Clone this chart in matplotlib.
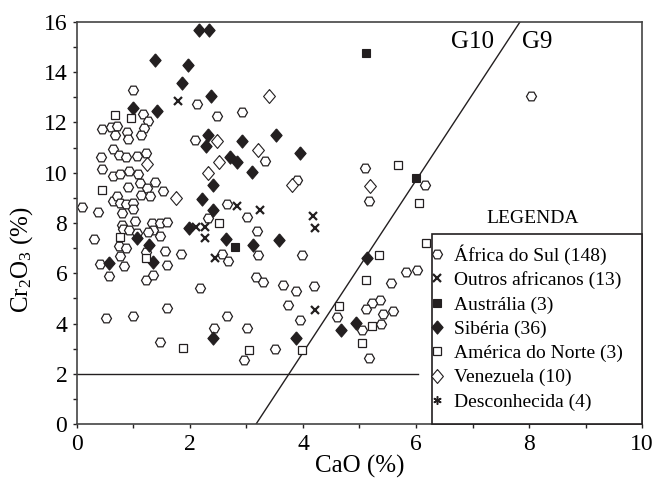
import matplotlib
matplotlib.use("Agg")
import matplotlib.pyplot as plt
from matplotlib.patches import Rectangle
from matplotlib.lines import Line2D

plt.rcParams["font.family"] = ["Liberation Serif", "DejaVu Serif"]
plt.rcParams["mathtext.default"] = "regular"

# Africa do Sul (open hexagons)
cao_za = [0.99, 2.13, 1.16, 1.26, 2.92, 2.47, 0.44, 0.60, 0.70, 0.67, 0.88, 0.91, 1.19, 1.13,
          2.09, 0.42, 0.64, 0.75, 0.86, 1.06, 1.22, 3.33, 0.44, 0.64, 0.77, 0.92, 1.08, 0.91,
          1.11, 1.24, 1.38, 1.53, 0.64, 0.70, 0.76, 0.87, 0.99, 1.13, 1.29, 0.80, 0.99, 1.02,
          0.09, 0.37, 2.65, 3.01, 2.31, 0.79, 0.82, 0.92, 1.06, 1.32, 1.47, 1.60, 1.35, 1.25,
          1.47, 3.19, 0.30, 0.75, 0.86, 1.56, 1.84, 0.77, 0.41, 0.83, 1.22, 1.59, 0.57, 1.23,
          1.35, 0.51, 0.99, 1.59, 1.47, 2.18, 2.43, 2.65, 2.56, 2.67, 3.20, 3.17, 3.30, 3.01,
          2.95, 3.50, 3.65, 3.87, 3.74, 3.94, 3.98, 4.20, 3.90, 8.03, 5.10, 5.17, 6.16, 6.02,
          5.83, 5.55, 5.37, 5.22, 5.12, 5.59, 5.42, 5.38, 4.60, 5.05, 5.17]
cr_za = [13.31, 12.75, 12.35, 12.04, 12.40, 12.27, 11.75, 11.83, 11.87, 11.51, 11.63, 11.36, 11.78, 11.49,
         11.30, 10.64, 10.94, 10.72, 10.64, 10.65, 10.80, 10.45, 10.14, 9.86, 9.94, 10.07, 9.96, 9.45,
         9.58, 9.39, 9.65, 9.26, 8.89, 9.06, 8.79, 8.77, 8.79, 9.10, 9.07, 8.38, 8.54, 8.08,
         8.64, 8.42, 8.74, 8.25, 8.20, 7.94, 7.75, 7.73, 7.60, 7.99, 8.00, 8.02, 7.73, 7.66,
         7.49, 7.70, 7.35, 7.10, 7.02, 6.90, 6.77, 6.67, 6.35, 6.28, 6.86, 6.31, 5.88, 5.74,
         5.94, 4.21, 4.30, 4.61, 3.26, 5.41, 3.81, 4.29, 6.76, 6.47, 6.71, 5.85, 5.67, 3.81,
         2.53, 3.00, 5.54, 5.28, 4.74, 4.13, 6.73, 5.48, 9.72, 13.04, 10.20, 8.86, 9.50, 6.14,
         6.03, 5.62, 4.92, 4.81, 4.58, 4.51, 4.36, 3.98, 4.25, 3.74, 2.62]

# Outros africanos (x)
cao_oa = [1.79, 2.83, 3.24, 4.18, 4.21, 2.11, 2.27, 2.27, 2.44, 4.22]
cr_oa = [12.84, 8.69, 8.53, 8.29, 7.80, 7.83, 7.83, 7.40, 6.60, 4.55]

# Australia (filled squares)
cao_au = [5.12, 6.00, 2.79]
cr_au = [14.77, 9.81, 7.04]

# Siberia (filled diamonds)
cao_si = [2.16, 2.34, 1.38, 1.96, 1.85, 2.37, 0.99, 1.42, 2.31, 2.28, 2.92, 3.52, 2.70, 2.84,
          3.95, 3.10, 2.41, 2.21, 2.41, 1.99, 1.06, 1.27, 2.64, 3.12, 3.58, 0.57, 1.34, 2.41,
          3.87, 5.14, 4.68, 4.94]
cr_si = [15.70, 15.70, 14.50, 14.28, 13.57, 13.04, 12.58, 12.44, 11.51, 11.05, 11.25, 11.50, 10.63, 10.41,
         10.78, 10.01, 9.52, 8.95, 8.50, 7.82, 7.40, 7.13, 7.36, 7.13, 7.33, 6.40, 6.45, 3.41,
         3.44, 6.60, 3.75, 4.01]

# America do Norte (open squares)
cao_an = [1.88, 3.05, 3.98, 5.68, 6.06, 6.18, 5.35, 5.11, 4.64, 5.23, 5.04, 2.52, 0.45, 0.67,
          0.96, 1.23, 0.76]
cr_an = [3.03, 2.95, 2.95, 10.29, 8.78, 7.20, 6.73, 5.75, 4.70, 3.90, 3.22, 8.00, 9.32, 12.29,
         12.18, 6.60, 7.46]

# Venezuela (open diamonds)
cao_ve = [3.39, 2.48, 3.21, 2.52, 2.31, 3.80, 1.24, 1.75, 5.19]
cr_ve = [13.04, 11.25, 10.90, 10.43, 10.00, 9.50, 10.34, 9.00, 9.48]

# Desconhecida (none visible)
cao_de = []
cr_de = []

# G10 / G9 boundary and 2 % Cr2O3 line
g_line_cao = [3.17, 7.84]
g_line_cr = [0, 16]
h_line_cao = [0, 6.04]
h_line_cr = [2, 2]

legend_labels = ["África do Sul (148)", "Outros africanos (13)", "Austrália (3)", "Sibéria (36)",
                 "América do Norte (3)", "Venezuela (10)", "Desconhecida (4)"]

ink = "#231f20"
diamond = [(0, 1), (0.85, 0), (0, -1), (-0.85, 0), (0, 1)]

fig = plt.figure(figsize=(6.58, 4.79), dpi=100)
ax = fig.add_axes([0.117, 0.1148, 0.8587, 0.8393])

ax.plot(g_line_cao, g_line_cr, color=ink, lw=1.0, zorder=1)
ax.plot(h_line_cao, h_line_cr, color=ink, lw=1.0, zorder=1)

styles = [
    dict(marker="H", ms=7.2, mfc="white", mec=ink, mew=0.9),
    dict(marker="x", ms=5.5, mfc=ink, mec=ink, mew=1.6),
    dict(marker="s", ms=6.3, mfc=ink, mec=ink, mew=0.8),
    dict(marker=diamond, ms=9.5, mfc=ink, mec=ink, mew=0.8),
    dict(marker="s", ms=5.8, mfc="white", mec=ink, mew=0.9),
    dict(marker=diamond, ms=10, mfc="white", mec=ink, mew=0.8),
    dict(marker=(6, 2, 0), ms=6, mfc=ink, mec=ink, mew=1.1),
]
series = [(cao_za, cr_za), (cao_oa, cr_oa), (cao_au, cr_au), (cao_si, cr_si),
          (cao_an, cr_an), (cao_ve, cr_ve), (cao_de, cr_de)]
draw_order = [0, 4, 5, 1, 3, 2, 6]
for i in draw_order:
    x, y = series[i]
    ax.plot(x, y, linestyle="none", zorder=2 + i * 0.1, clip_on=False, **styles[i])

ax.set_xlim(0, 10)
ax.set_ylim(0, 16)
ax.set_xticks(range(0, 11, 2))
ax.set_xticks(range(0, 11), minor=True)
ax.set_yticks(range(0, 17, 2))
ax.set_yticks(range(0, 17), minor=True)
ax.tick_params(which="both", direction="out", length=3, width=1, color=ink, labelsize=17, pad=4)
for s in ax.spines.values():
    s.set_color("#444444")
    s.set_linewidth(1.2)

ax.set_xlabel("CaO (%)", fontsize=18, labelpad=0)
ax.set_ylabel("Cr$_2$O$_3$ (%)", fontsize=18)
ax.yaxis.set_label_coords(-0.075, 0.41)

ax.text(7.0, 15.2, "G10", fontsize=18, ha="center", va="center")
ax.text(8.15, 15.2, "G9", fontsize=18, ha="center", va="center")

# legend frame and heading
ax.add_patch(Rectangle((0.628, 0), 0.372, 0.473, transform=ax.transAxes, fill=True,
                       facecolor="white", edgecolor=ink, lw=1.2, zorder=5, clip_on=False))
ax.text(0.807, 0.512, "LEGENDA", transform=ax.transAxes, fontsize=14, ha="center", va="center")

handles = [Line2D([], [], linestyle="none", **st) for st in styles]
leg = ax.legend(handles, legend_labels, loc="upper left", bbox_to_anchor=(0.617, 0.457),
                frameon=False, fontsize=14, handlelength=0.8, handletextpad=0.45,
                labelspacing=0.34, borderaxespad=0, borderpad=0.2)
leg.set_zorder(6)

fig.savefig("out.png", dpi=100)
